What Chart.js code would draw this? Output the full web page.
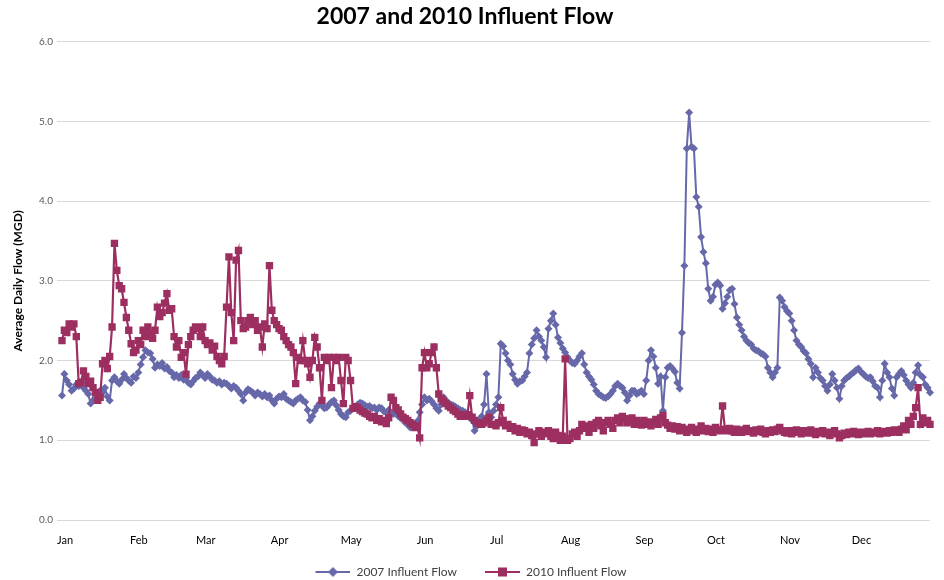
<!DOCTYPE html>
<html>
<head>
<meta charset="utf-8">
<script src="https://cdn.jsdelivr.net/npm/chart.js@4.4.1/dist/chart.umd.min.js"></script>
<style>
html,body{margin:0;padding:0;background:#fff;}
#wrap{width:944px;height:580px;position:relative;}
</style>
</head>
<body>
<div id="wrap"><canvas id="c"></canvas></div>
<script>
const chartTitle = '2007 and 2010 Influent Flow';
const yAxisTitle = 'Average Daily Flow (MGD)';
const monthNames = ['Jan','Feb','Mar','Apr','May','Jun','Jul','Aug','Sep','Oct','Nov','Dec'];
const monthDays = [31,28,31,30,31,30,31,31,30,31,30,31];
const yMin = 0, yMax = 6, yStep = 1;

const flow2007 = [
// Jan
1.56,1.83,1.75,1.70,1.62,1.65,1.70,1.68,1.72,1.66,
1.62,1.58,1.46,1.50,1.54,1.58,1.62,1.60,1.66,1.55,
1.50,1.75,1.79,1.74,1.71,1.76,1.83,1.78,1.75,1.72,
1.80,
// Feb
1.78,1.85,1.95,2.04,2.13,2.10,2.09,2.02,1.91,1.95,
1.93,1.97,1.90,1.92,1.87,1.85,1.79,1.82,1.78,1.82,
1.76,1.78,1.72,1.70,1.74,1.78,1.80,1.85,
// Mar
1.82,1.78,1.83,1.80,1.76,1.75,1.72,1.74,1.70,1.72,
1.71,1.68,1.65,1.68,1.66,1.62,1.58,1.50,1.60,1.64,
1.62,1.60,1.56,1.60,1.58,1.55,1.58,1.54,1.56,1.50,
1.46,
// Apr
1.52,1.55,1.54,1.58,1.52,1.50,1.48,1.46,1.50,1.52,
1.54,1.50,1.48,1.38,1.25,1.30,1.37,1.42,1.46,1.44,
1.40,1.41,1.45,1.48,1.50,1.44,1.38,1.33,1.30,1.29,
// May
1.35,1.37,1.40,1.42,1.45,1.47,1.46,1.44,1.42,1.43,
1.40,1.41,1.38,1.41,1.40,1.36,1.35,1.38,1.34,1.33,
1.35,1.30,1.28,1.26,1.22,1.20,1.16,1.20,1.18,1.24,
1.35,
// Jun
1.45,1.54,1.50,1.52,1.49,1.45,1.40,1.37,1.45,1.54,
1.50,1.47,1.45,1.44,1.42,1.40,1.38,1.37,1.35,1.32,
1.30,1.25,1.12,1.18,1.25,1.30,1.45,1.83,1.35,1.29,
// Jul
1.37,1.45,1.54,2.21,2.18,2.09,2.00,1.95,1.83,1.76,
1.71,1.74,1.75,1.80,1.85,2.09,2.20,2.28,2.38,2.30,
2.25,2.17,2.04,2.40,2.50,2.59,2.45,2.29,2.22,2.15,
2.10,
// Aug
2.04,2.00,1.97,1.96,2.00,2.05,2.09,1.95,1.85,1.80,
1.76,1.70,1.62,1.58,1.56,1.54,1.53,1.55,1.58,1.62,
1.68,1.71,1.68,1.66,1.60,1.50,1.56,1.62,1.62,1.58,
1.60,
// Sep
1.62,1.58,1.75,2.00,2.13,2.05,1.91,1.71,1.80,1.37,
1.79,1.91,1.93,1.90,1.86,1.72,1.65,2.35,3.19,4.66,
5.11,4.68,4.66,4.05,3.93,3.55,3.36,3.22,2.90,2.75,
// Oct
2.80,2.95,2.98,2.94,2.65,2.72,2.80,2.88,2.90,2.71,
2.54,2.45,2.38,2.30,2.25,2.22,2.20,2.15,2.13,2.12,
2.09,2.08,2.05,1.91,1.85,1.79,1.85,1.91,2.79,2.75,
2.67,
// Nov
2.62,2.59,2.50,2.38,2.25,2.20,2.17,2.12,2.09,2.02,
1.96,1.79,1.91,1.85,1.78,1.75,1.68,1.62,1.70,1.83,
1.75,1.66,1.52,1.68,1.75,1.78,1.80,1.83,1.85,1.88,
// Dec
1.90,1.86,1.83,1.80,1.78,1.79,1.74,1.68,1.66,1.54,
1.75,1.96,1.85,1.79,1.65,1.56,1.79,1.83,1.87,1.82,
1.75,1.70,1.66,1.72,1.85,1.94,1.82,1.79,1.70,1.66,
1.60
];

const flow2010 = [
// Jan
2.25,2.38,2.35,2.46,2.42,2.46,2.30,1.71,1.73,1.87,
1.80,1.71,1.74,1.66,1.60,1.50,1.54,1.96,2.00,1.90,
2.05,2.42,3.47,3.13,2.94,2.90,2.73,2.54,2.38,2.21,
2.10,
// Feb
2.13,2.25,2.20,2.38,2.30,2.42,2.35,2.28,2.38,2.67,
2.55,2.60,2.72,2.84,2.63,2.65,2.30,2.17,2.25,2.04,
2.10,1.83,2.20,2.30,2.38,2.42,2.40,2.30,
// Mar
2.42,2.25,2.20,2.22,2.13,2.18,2.05,2.00,1.96,2.05,
2.67,3.30,2.60,2.25,3.26,3.38,2.50,2.40,2.42,2.50,
2.54,2.45,2.50,2.38,2.42,2.17,2.46,2.40,3.19,2.63,
2.50,
// Apr
2.45,2.40,2.38,2.30,2.25,2.20,2.17,2.10,1.71,2.04,
2.00,2.25,2.00,1.96,1.79,2.00,2.29,2.17,1.91,1.50,
2.04,2.00,2.04,1.66,2.04,2.00,2.04,1.75,1.46,2.04,
// May
2.00,1.75,1.40,1.42,1.41,1.38,1.36,1.34,1.33,1.30,
1.28,1.30,1.25,1.27,1.23,1.25,1.21,1.28,1.54,1.50,
1.41,1.38,1.33,1.29,1.27,1.25,1.22,1.20,1.16,1.18,
1.03,
// Jun
1.91,2.10,1.91,1.96,2.10,2.17,1.91,1.58,1.52,1.49,
1.46,1.43,1.41,1.38,1.36,1.33,1.30,1.32,1.30,1.32,
1.56,1.29,1.25,1.22,1.21,1.20,1.22,1.25,1.29,1.20,
// Jul
1.20,1.18,1.22,1.41,1.25,1.18,1.20,1.15,1.17,1.12,
1.15,1.10,1.13,1.12,1.08,1.10,1.06,0.97,1.08,1.12,
1.05,1.10,1.08,1.12,1.05,1.02,1.10,1.06,1.00,1.05,
2.02,
// Aug
1.00,1.02,1.08,1.10,1.05,1.12,1.20,1.15,1.18,1.10,
1.20,1.15,1.22,1.25,1.18,1.12,1.22,1.25,1.20,1.15,
1.25,1.28,1.22,1.30,1.27,1.22,1.25,1.28,1.20,1.25,
1.22,
// Sep
1.19,1.25,1.20,1.23,1.18,1.22,1.26,1.20,1.28,1.31,
1.22,1.19,1.15,1.18,1.14,1.17,1.12,1.16,1.14,1.10,
1.13,1.16,1.12,1.10,1.14,1.18,1.12,1.15,1.11,1.14,
// Oct
1.10,1.16,1.13,1.12,1.43,1.14,1.12,1.15,1.12,1.10,
1.14,1.12,1.10,1.13,1.15,1.11,1.12,1.09,1.13,1.11,
1.14,1.10,1.08,1.12,1.10,1.13,1.11,1.14,1.16,1.12,
1.10,
// Nov
1.09,1.12,1.08,1.10,1.13,1.11,1.08,1.12,1.10,1.09,
1.13,1.10,1.07,1.11,1.09,1.12,1.08,1.10,1.06,1.09,
1.12,1.08,1.03,1.06,1.09,1.07,1.10,1.08,1.11,1.09,
// Dec
1.07,1.10,1.08,1.09,1.11,1.08,1.10,1.09,1.12,1.08,
1.10,1.11,1.09,1.12,1.10,1.13,1.12,1.10,1.14,1.18,
1.13,1.25,1.20,1.30,1.41,1.66,1.20,1.28,1.22,1.25,
1.20
];

const seriesNames = ['2007 Influent Flow','2010 Influent Flow'];
const blue = '#6668A9';
const red = '#9C2F60';

// day labels and month start indices
const dayLabels = [];
const monthStarts = [];
monthDays.forEach((n, m) => {
  monthStarts.push(dayLabels.length);
  for (let d = 1; d <= n; d++) dayLabels.push(monthNames[m] + ' ' + d);
});

// legend icons: transparent lead gap, then a line with the marker
const ICON_LEAD = 20, ICON_LINE = 35;
function legendIcon(color, style) {
  const c = document.createElement('canvas');
  c.width = ICON_LEAD + ICON_LINE; c.height = 12;
  const g = c.getContext('2d');
  g.strokeStyle = color; g.lineWidth = 2;
  g.beginPath(); g.moveTo(ICON_LEAD, 6); g.lineTo(ICON_LEAD + ICON_LINE, 6); g.stroke();
  g.fillStyle = color;
  const cx = ICON_LEAD + ICON_LINE / 2;
  if (style === 'rect') {
    g.fillRect(cx - 4.5, 1.5, 9, 9);
  } else {
    g.beginPath(); g.moveTo(cx, 1); g.lineTo(cx + 5, 6); g.lineTo(cx, 11); g.lineTo(cx - 5, 6); g.closePath(); g.fill();
  }
  return c;
}
const icons = [legendIcon(blue, 'rectRot'), legendIcon(red, 'rect')];

// nudge legend into the reference position after layout
const legendNudge = {
  id: 'legendNudge',
  afterLayout(chart) {
    const lg = chart.legend;
    if (!lg) return;
    lg.top += 8; lg.bottom += 8;
    lg.left -= 4; lg.right -= 4;
  }
};

const FONT = 'Lato, "Open Sans", "DejaVu Sans", sans-serif';

new Chart(document.getElementById('c'), {
  type: 'line',
  data: {
    labels: dayLabels,
    datasets: [
      {
        label: seriesNames[0], data: flow2007,
        borderColor: blue, backgroundColor: blue, borderWidth: 2,
        pointStyle: 'rectRot', pointRadius: 4, pointBorderWidth: 0,
        pointBackgroundColor: blue, tension: 0, order: 1
      },
      {
        label: seriesNames[1], data: flow2010,
        borderColor: red, backgroundColor: red, borderWidth: 2.2,
        pointStyle: 'rect', pointRadius: 5.2, pointBorderWidth: 0,
        pointBackgroundColor: red, tension: 0, order: 0
      }
    ]
  },
  plugins: [legendNudge],
  options: {
    responsive: true, maintainAspectRatio: false, animation: false,
    layout: { padding: { left: 0, right: 14, top: 0, bottom: 0 } },
    plugins: {
      title: {
        display: true, text: chartTitle, color: '#000',
        font: { family: FONT, size: 23, weight: 'bold' },
        padding: { top: 3, bottom: 11 }
      },
      legend: {
        position: 'bottom',
        labels: {
          usePointStyle: true, pointStyleWidth: ICON_LEAD + ICON_LINE,
          color: '#404040', font: { family: FONT, size: 12 },
          padding: 8,
          generateLabels: (chart) => chart.data.datasets.map((ds, i) => ({
            text: ds.label, pointStyle: icons[i], fillStyle: ds.borderColor,
            strokeStyle: ds.borderColor, lineWidth: 0, hidden: false,
            datasetIndex: i, fontColor: '#404040'
          }))
        }
      },
      tooltip: { enabled: false }
    },
    scales: {
      x: {
        type: 'category',
        grid: { display: false },
        border: { display: false },
        afterBuildTicks: (scale) => { scale.ticks = monthStarts.map(v => ({ value: v })); },
        afterFit: (scale) => { scale.height = 30; },
        ticks: {
          autoSkip: false, maxRotation: 0, minRotation: 0, padding: 6, labelOffset: 3,
          color: '#000', font: { family: FONT, size: 11 },
          callback: function (value) { return monthNames[monthStarts.indexOf(value)]; }
        }
      },
      y: {
        min: yMin, max: yMax,
        afterFit: (scale) => { scale.width = 62; },
        grid: { color: '#d9d9d9', lineWidth: 1, tickLength: 5 },
        border: { display: false },
        ticks: {
          stepSize: yStep, padding: 4, color: '#595959',
          font: { family: FONT, size: 10 },
          callback: (v) => Number(v).toFixed(1)
        },
        title: {
          display: true, text: yAxisTitle, color: '#000',
          font: { family: FONT, size: 12, weight: 'bold' },
          padding: { top: 11, bottom: 4 }
        }
      }
    }
  }
});
</script>
</body>
</html>
